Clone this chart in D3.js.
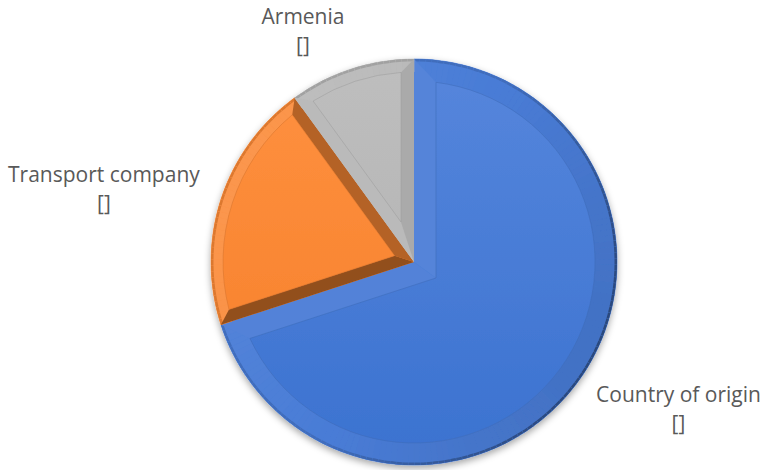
<!DOCTYPE html>
<html>
<head>
<meta charset="utf-8">
<script src="https://cdn.jsdelivr.net/npm/d3@7"></script>
<style>
  body { margin: 0; background: #fff; }
  #chart { width: 762px; height: 470px; }
</style>
</head>
<body>
<div id="chart"></div>
<script>
// data
var categories = ["Country of origin", "Transport company", "Armenia"];
var shares = [70, 20, 10];
var valueLabels = ["[]", "[]", "[]"];

// style per slice
var faceTop = { "Country of origin": "#5686dc", "Transport company": "#ff9140", "Armenia": "#bebebe" };
var faceBottom = { "Country of origin": "#3b72d0", "Transport company": "#f57e29", "Armenia": "#afafaf" };
var bevelW = { "Country of origin": 22, "Transport company": 12, "Armenia": 13 };
var darkK = { "Country of origin": 0.08, "Transport company": 0.6, "Armenia": 0.08 };
var lightK = { "Country of origin": 0.07, "Transport company": 0.12, "Armenia": 0.1 };

var width = 762, height = 470;
var cx = 414, cy = 262, radius = 203;

var svg = d3.select("#chart").append("svg")
    .attr("width", width)
    .attr("height", height);

var defs = svg.append("defs");
var shadow = defs.append("filter").attr("id", "shadow")
    .attr("x", "-20%").attr("y", "-20%").attr("width", "140%").attr("height", "140%");
shadow.append("feDropShadow")
    .attr("dx", 0).attr("dy", 3).attr("stdDeviation", 3.5)
    .attr("flood-color", "#000").attr("flood-opacity", 0.35);

categories.forEach(function (c, i) {
    var g = defs.append("linearGradient").attr("id", "grad" + i)
        .attr("gradientUnits", "userSpaceOnUse")
        .attr("x1", 0).attr("y1", -radius).attr("x2", 0).attr("y2", radius);
    g.append("stop").attr("offset", "0%").attr("stop-color", faceTop[c]);
    g.append("stop").attr("offset", "100%").attr("stop-color", faceBottom[c]);
});

var light = [-0.9, -0.44];
function shade(base, n, name) {
    var f = n[0] * light[0] + n[1] * light[1];
    if (f >= 0) return d3.interpolateRgb(base, "#ffffff")(f * lightK[name]);
    return d3.interpolateRgb(base, "#000000")(-f * darkK[name]);
}

var pieData = d3.pie().sort(null).value(function (d) { return d; })(shares);
var arc = d3.arc().innerRadius(0).outerRadius(radius);

var pieG = svg.append("g")
    .attr("transform", "translate(" + cx + "," + cy + ")")
    .attr("filter", "url(#shadow)");

pieData.forEach(function (d, i) {
    var name = categories[i];
    var base = d3.interpolateRgb(faceTop[name], faceBottom[name])(0.5);
    var b = bevelW[name];
    var a0 = d.startAngle, a1 = d.endAngle;
    var u0 = [Math.sin(a0), -Math.cos(a0)], u1 = [Math.sin(a1), -Math.cos(a1)];
    var n0 = [Math.cos(a0), Math.sin(a0)], n1 = [-Math.cos(a1), -Math.sin(a1)];
    // inner apex: p.n0 = b, p.n1 = b
    var det = n0[0] * n1[1] - n0[1] * n1[0];
    var ap = [b * (n1[1] - n0[1]) / det, b * (n0[0] - n1[0]) / det];
    var t = Math.sqrt((radius - b) * (radius - b) - b * b);
    var q0 = [b * n0[0] + t * u0[0], b * n0[1] + t * u0[1]];
    var q1 = [b * n1[0] + t * u1[0], b * n1[1] + t * u1[1]];
    var p0 = [radius * u0[0], radius * u0[1]], p1 = [radius * u1[0], radius * u1[1]];

    var sg = pieG.append("g").attr("class", "slice");

    // base slice
    sg.append("path").attr("d", arc(d)).attr("fill", base);

    // outer arc facet, split in small steps
    var steps = Math.ceil((a1 - a0) / 0.03);
    var ring = d3.arc().innerRadius(radius - b).outerRadius(radius);
    var rim = d3.arc().innerRadius(radius - 2.5).outerRadius(radius);
    d3.range(steps).forEach(function (s) {
        var s0 = a0 + (a1 - a0) * s / steps, s1 = a0 + (a1 - a0) * (s + 1) / steps;
        var m = (s0 + s1) / 2;
        var nrm = [Math.sin(m), -Math.cos(m)];
        var col = shade(base, nrm, name);
        sg.append("path")
            .attr("d", ring({ startAngle: s0, endAngle: s1 }))
            .attr("fill", col).attr("stroke", col).attr("stroke-width", 0.6);
        // darker outer rim, strongest on the lower right
        var f = Math.max(0, -(nrm[0] * light[0] + nrm[1] * light[1]));
        sg.append("path")
            .attr("d", rim({ startAngle: s0, endAngle: s1 }))
            .attr("fill", d3.interpolateRgb(base, "#000000")(0.12 + 0.3 * f));
    });

    // radial facets
    sg.append("path")
        .attr("d", d3.line()([[0, 0], p0, q0, ap]) + "Z")
        .attr("fill", shade(base, [-n0[0], -n0[1]], name));
    sg.append("path")
        .attr("d", d3.line()([[0, 0], p1, q1, ap]) + "Z")
        .attr("fill", shade(base, [-n1[0], -n1[1]], name));

    // top face
    var qa0 = Math.atan2(q0[1], q0[0]), qa1 = Math.atan2(q1[1], q1[0]);
    if (qa1 <= qa0) qa1 += 2 * Math.PI;
    var fp = d3.path();
    fp.moveTo(ap[0], ap[1]);
    fp.lineTo(q0[0], q0[1]);
    fp.arc(0, 0, radius - b, qa0, qa1, false);
    fp.closePath();
    sg.append("path").attr("d", fp.toString())
        .attr("fill", "url(#grad" + i + ")")
        .attr("stroke", d3.interpolateRgb(base, "#000000")(0.15))
        .attr("stroke-opacity", 0.5)
        .attr("stroke-width", 1);
});

// labels, outside end
var labelR = radius + 22;
var lineH = 29;
var labelG = svg.append("g").attr("transform", "translate(" + cx + "," + cy + ")");
pieData.forEach(function (d, i) {
    var m = (d.startAngle + d.endAngle) / 2;
    var dx = Math.sin(m), dy = -Math.cos(m);
    var px = labelR * dx, py = labelR * dy;
    var txt = labelG.append("text")
        .attr("font-family", "'Open Sans', Lato, sans-serif")
        .attr("font-size", 21)
        .attr("fill", "#595959")
        .attr("text-anchor", "middle");
    txt.append("tspan").attr("x", 0).attr("dy", 0).text(categories[i]);
    txt.append("tspan").attr("x", 0).attr("dy", lineH).text(valueLabels[i]);
    var w = txt.node().getBBox().width;
    var h = lineH * 2;
    var bx = px + (dx >= 0 ? w / 2 : -w / 2);
    var by = py + dy * h * 0.35;
    txt.attr("transform", "translate(" + bx + "," + (by - lineH / 2 + 10) + ")");
});
</script>
</body>
</html>
